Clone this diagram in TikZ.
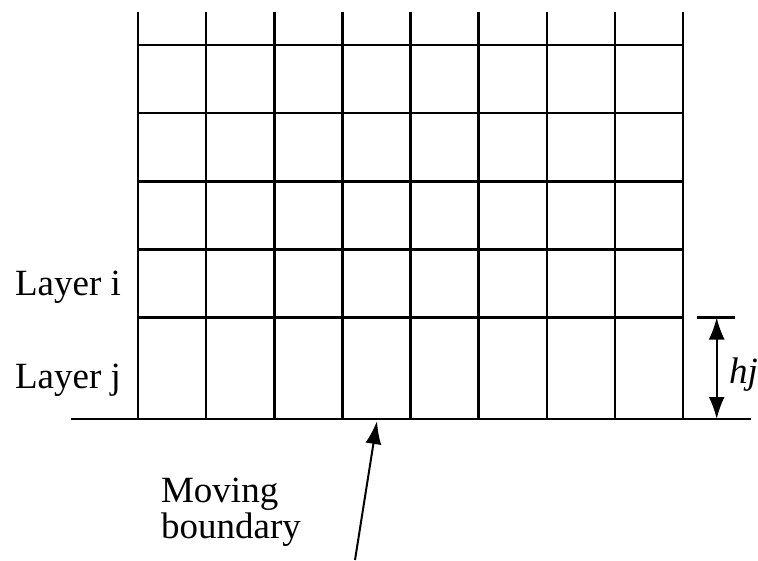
\documentclass[tikz,border=0pt]{standalone}
\usepackage{fontspec}
\setmainfont{Liberation Serif}
\usetikzlibrary{arrows.meta}

\begin{document}
\begin{tikzpicture}[x=1pt, y=-1pt, line width=2.2pt,
  lbl/.style={inner sep=0pt, font=\fontsize{37}{36}\selectfont},
  tip/.style={-{Latex[length=23pt, width=16pt]}}]
\useasboundingbox (0,0) rectangle (758,560);
% grid of layers
\foreach \i in {0,...,8}
  \draw ({138.3+68.05*\i},11.5) -- ({138.3+68.05*\i},419);
\foreach \y in {45,113.3,181.5,249.5,317.5}
  \draw (138.3,\y) -- (682.7,\y);
\draw (71,419) -- (751,419);
% labels
\node[lbl, anchor=base east] (layeri) at (122,295) {Layer i};
\node[lbl, anchor=base east] (layerj) at (122,388) {Layer j};
\node[lbl, anchor=base west, align=left] (moving) at (160,538) {Moving\\boundary};
% layer thickness
\coordinate (htop) at (716.7,317.5);
\coordinate (hbot) at (716.7,419);
\draw (697,317.5) -- (735,317.5);
\draw[{Latex[length=22pt, width=16pt]}-{Latex[length=22pt, width=16pt]}, line width=2pt] (htop) -- (hbot);
\node[lbl, anchor=base west] (hj) at (728,383) {\itshape hj};
% arrow to the boundary
\coordinate (tail) at (355,560);
\coordinate (front) at (377,421);
\draw[tip, line width=2pt] (tail) -- (front);
\end{tikzpicture}
\end{document}
